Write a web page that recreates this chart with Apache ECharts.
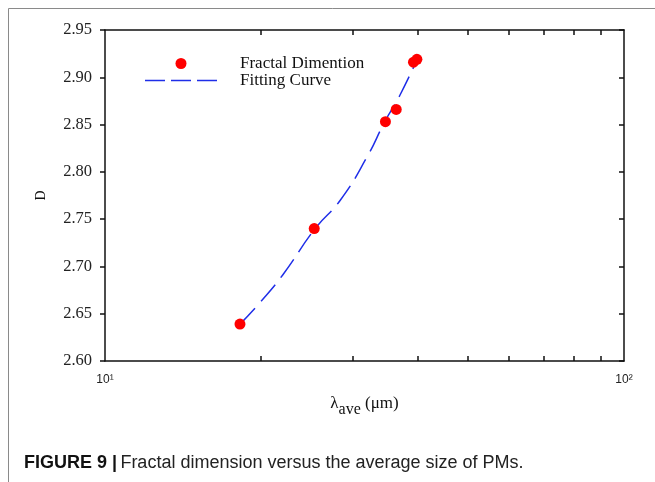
<!DOCTYPE html>
<html>
<head>
<meta charset="utf-8">
<script src="https://cdn.jsdelivr.net/npm/echarts@6/dist/echarts.min.js"></script>
<style>
  html, body { margin: 0; padding: 0; background: #fff; }
  #chart { width: 655px; height: 482px; }
</style>
</head>
<body>
<div id="chart"></div>
<script>
// measured points (lambda_ave in um, fractal dimension D)
const pointX = [18.2, 25.3, 34.7, 36.4, 39.3, 39.9];
const pointY = [2.639, 2.740, 2.853, 2.866, 2.916, 2.919];

// fitting curve
const fitX = [18.2, 19.9, 22.0, 25.4, 28.4, 32.0, 34.6, 37.0, 40.1];
const fitY = [2.639, 2.662, 2.691, 2.740, 2.770, 2.816, 2.853, 2.881, 2.921];

const minorTicks = [20, 30, 40, 50, 60, 70, 80, 90];

const chart = echarts.init(document.getElementById('chart'));

const serif = 'Liberation Serif';
const axisColor = '#111';
const blue = '#1f2ee8';

const option = {
  backgroundColor: '#ffffff',
  animation: false,
  grid: { left: 105, right: 31, top: 30, bottom: 121 },
  legend: {
    orient: 'vertical',
    left: 140,
    top: 50,
    itemWidth: 72,
    itemHeight: 11,
    itemGap: 0,
    textStyle: { fontFamily: serif, fontSize: 17, color: '#111', padding: [0, 0, 0, 18] },
    data: [
      { name: 'Fractal Dimention' },
      {
        name: 'Fitting Curve',
        // dashed line sample like the original legend
        icon: 'path://M0,0h20v1.5h-20z M26,0h20v1.5h-20z M52,0h20v1.5h-20z',
        itemStyle: { color: blue }
      }
    ]
  },
  xAxis: [{
    type: 'log',
    logBase: 10,
    min: 10,
    max: 100,
    position: 'bottom',
    name: '{l|λ}{s|ave}{l| (μm)}',
    nameLocation: 'middle',
    nameGap: 34,
    nameTextStyle: {
      rich: {
        l: { fontFamily: serif, fontSize: 17, color: '#111', lineHeight: 23, verticalAlign: 'top' },
        s: { fontFamily: serif, fontSize: 16, color: '#111', verticalAlign: 'bottom' }
      }
    },
    axisLine: { lineStyle: { color: axisColor, width: 1.5 } },
    axisTick: { inside: true, length: 5, customValues: minorTicks, lineStyle: { color: axisColor, width: 1.5 } },
    axisLabel: {
      margin: 13,
      fontFamily: 'Liberation Sans',
      fontSize: 12,
      color: '#222',
      formatter: v => (v === 10 ? '10¹' : v === 100 ? '10²' : '')
    },
    splitLine: { show: false }
  }, {
    type: 'log',
    logBase: 10,
    min: 10,
    max: 100,
    position: 'top',
    axisLine: { lineStyle: { color: axisColor, width: 1.5 } },
    axisTick: { inside: true, length: 5, customValues: minorTicks, lineStyle: { color: axisColor, width: 1.5 } },
    axisLabel: { show: false },
    splitLine: { show: false }
  }],
  yAxis: [{
    type: 'value',
    min: 2.60,
    max: 2.95,
    interval: 0.05,
    name: 'D',
    nameLocation: 'middle',
    nameGap: 57,
    nameTextStyle: { fontFamily: serif, fontSize: 14, color: '#111' },
    axisLine: { show: true, lineStyle: { color: axisColor, width: 1.5 } },
    axisTick: { show: true, length: 5, lineStyle: { color: axisColor, width: 1.5 } },
    axisLabel: {
      margin: 13,
      fontFamily: serif,
      fontSize: 16.5,
      color: '#222',
      formatter: v => v.toFixed(2)
    },
    splitLine: { show: false }
  }, {
    type: 'value',
    min: 2.60,
    max: 2.95,
    interval: 0.05,
    position: 'right',
    axisLine: { show: true, lineStyle: { color: axisColor, width: 1.5 } },
    axisTick: { show: true, inside: true, length: 5, lineStyle: { color: axisColor, width: 1.5 } },
    axisLabel: { show: false },
    splitLine: { show: false }
  }],
  series: [{
    name: 'Fitting Curve',
    type: 'line',
    smooth: true,
    symbol: 'none',
    showSymbol: false,
    z: 2,
    itemStyle: { color: blue },
    lineStyle: { color: blue, width: 1.5, type: [22, 9] },
    data: fitX.map((x, i) => [x, fitY[i]])
  }, {
    name: 'Fractal Dimention',
    type: 'scatter',
    symbol: 'circle',
    symbolSize: 11,
    z: 3,
    itemStyle: { color: '#ff0000', opacity: 1 },
    data: pointX.map((x, i) => [x, pointY[i]])
  }],
  graphic: [{
    type: 'rect',
    silent: true,
    shape: { x: 8.5, y: 8.5, width: 700, height: 520 },
    style: { fill: null, stroke: '#8a8a8a', lineWidth: 1 }
  }, {
    type: 'text',
    left: 24,
    top: 454,
    style: {
      text: '{b|FIGURE 9 |} {n|Fractal dimension versus the average size of PMs.}',
      rich: {
        b: { fontFamily: 'Liberation Sans', fontWeight: 'bold', fontSize: 18, fill: '#111' },
        n: { fontFamily: 'Liberation Sans', fontSize: 18, fill: '#222' }
      }
    }
  }]
};

chart.setOption(option);
</script>
</body>
</html>
